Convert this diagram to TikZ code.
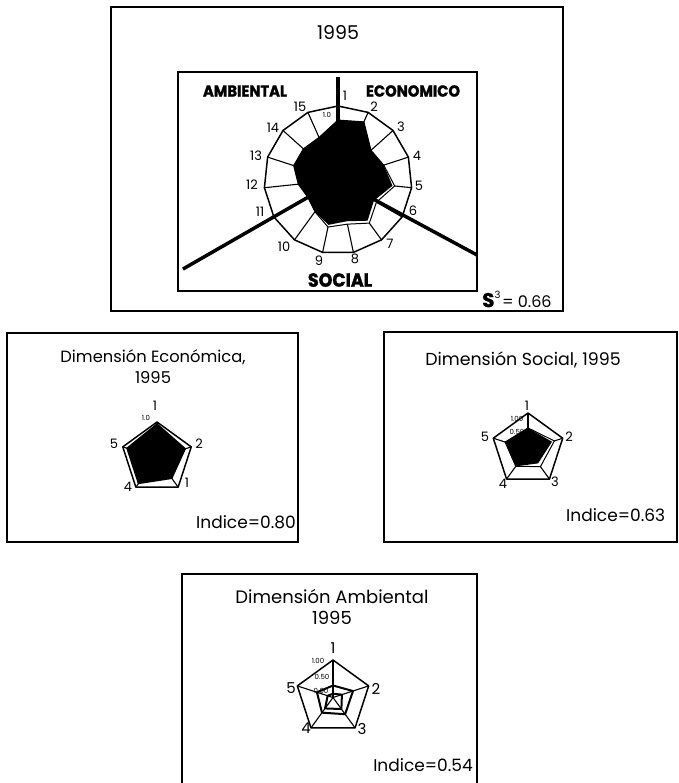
\documentclass[tikz,border=0pt]{standalone}
\usepackage{fontspec}
\setmainfont{Poppins}
\begin{document}
\begin{tikzpicture}[x=1pt,y=-1pt,
  frame/.style={draw=black,line width=1.4pt},
  outerpoly/.style={draw=black,line width=1.5pt,line join=round},
  spoke/.style={draw=black,line width=1.1pt},
  datafill/.style={fill=black},
  dataline/.style={draw=black,line width=1pt,line join=round},
  thickline/.style={draw=black,line width=3.5pt},
  ttl/.style={align=center,inner sep=0pt},
  num/.style={font=\fontsize{13}{14}\selectfont,inner sep=0pt},
  bignum/.style={font=\fontsize{15}{16}\selectfont,inner sep=0pt},
  tiny/.style={font=\fontsize{7}{8}\selectfont,inner sep=0pt},
  heavy/.style={font=\bfseries\addfontfeatures{FakeBold=1.5,FakeStretch=0.92}\fontsize{16}{17}\selectfont,inner sep=0pt},
  idx/.style={font=\fontsize{17}{19}\selectfont,inner sep=0pt}]
\useasboundingbox (0,0) rectangle (678,783);

% ---------- top panel ----------
\draw[frame] (111,7) rectangle (563,311);
\node[ttl,font=\fontsize{19}{21}\selectfont] (t1995) at (338,33) {1995};
\draw[frame] (178,72) rectangle (477,291);
\coordinate (tc) at (338,180);
\begin{scope}[shift={(338pt,-180pt)}]
  \draw[outerpoly] (90:74pt) \foreach \k in {1,...,14} { -- ({90-24*\k}:74pt) } -- cycle;
  \foreach \k in {0,...,14} \draw[spoke] (0,0) -- ({90-24*\k}:74pt);
  \draw[dataline,fill=white] (90:{0.81*74pt})
    \foreach \v [count=\i] in {0.86,0.60,0.65,0.77,0.60,0.72,0.61,0.65,0.53,0.47,0.54,0.63,0.63,0.63}
    { -- ({90-24*\i}:{\v*74pt}) } -- cycle;
  \fill[datafill] (90:{0.81*74pt})
    \foreach \v [count=\i] in {0.86,0.60,0.65,0.74,0.56,0.68,0.57,0.62,0.53,0.47,0.54,0.63,0.63,0.63}
    { -- ({90-24*\i}:{\v*74pt}) } -- cycle;
\end{scope}
\coordinate (tu) at (338,77);
\coordinate (tr) at (477,255);
\coordinate (tl) at (183,269);
\draw[thickline] (tc) -- (tu);
\draw[thickline] (tc) -- (tr);
\draw[thickline] (tc) -- (tl);
\node[heavy] (amb) at (245,91) {AMBIENTAL};
\node[heavy] (eco) at (413,91) {ECONOMICO};
\node[heavy,font=\bfseries\addfontfeatures{FakeBold=1.5,FakeStretch=0.92}\fontsize{19}{20}\selectfont] (soc) at (340,280) {SOCIAL};
\node[tiny] (t10) at (327,115) {1.0};
\node[num] (n1) at (345,96) {1};
\node[num] (n2) at (374,107) {2};
\node[num] (n3) at (401,127) {3};
\node[num] (n4) at (417,156) {4};
\node[num] (n5) at (419,186) {5};
\node[num] (n6) at (413,211) {6};
\node[num] (n7) at (390,244) {7};
\node[num] (n8) at (355,259) {8};
\node[num] (n9) at (319,261) {9};
\node[num] (n10) at (284,247) {10};
\node[num] (n11) at (260,212) {11};
\node[num] (n12) at (252,185) {12};
\node[num] (n13) at (256,156) {13};
\node[num] (n14) at (273,128) {14};
\node[num] (n15) at (300,107) {15};
\node[inner sep=0pt,anchor=west] (s3) at (482,299)
  {{\bfseries\addfontfeatures{FakeBold=1}\fontsize{20}{21}\selectfont S}\raisebox{9pt}{\fontsize{10}{11}\selectfont 3}\,{\fontsize{16}{17}\selectfont = 0.66}};

% ---------- left panel ----------
\draw[frame] (7,333) rectangle (298,542);
\node[ttl,font=\fontsize{16.3}{21}\selectfont] (ecot) at (153,367) {Dimensión Económica,\\1995};
\begin{scope}[shift={(157pt,-458pt)}]
  \draw[outerpoly] (90:36pt) \foreach \k in {1,...,4} { -- ({90-72*\k}:36pt) } -- cycle;
  \foreach \k in {0,...,4} \draw[spoke] (0,0) -- ({90-72*\k}:36pt);
  \fill[datafill] (90:{0.97*36pt})
    \foreach \v [count=\i] in {0.85,0.72,0.9,0.9} { -- ({90-72*\i}:{\v*36pt}) } -- cycle;
\end{scope}
\node[num] (e1) at (155,406) {1};
\node[tiny] (e10) at (146,418) {1.0};
\node[num] (e2) at (199,444) {2};
\node[num] (e3) at (187,483) {1};
\node[num] (e4) at (128,487) {4};
\node[num] (e5) at (114,444) {5};
\node[idx,anchor=west] (ei) at (196,522) {Indice=0.80};

% ---------- right panel ----------
\draw[frame] (384,332) rectangle (677,542);
\node[ttl,font=\fontsize{17.4}{21}\selectfont] (soct) at (523,360) {Dimensión Social, 1995};
\begin{scope}[shift={(528pt,-449.5pt)}]
  \draw[outerpoly] (90:36.5pt) \foreach \k in {1,...,4} { -- ({90-72*\k}:36.5pt) } -- cycle;
  \foreach \k in {0,...,4} \draw[spoke] (0,0) -- ({90-72*\k}:36.5pt);
  \draw[dataline,fill=white] (90:{0.59*36.5pt})
    \foreach \v [count=\i] in {0.76,0.58,0.57,0.66} { -- ({90-72*\i}:{\v*36.5pt}) } -- cycle;
  \fill[datafill] (90:{0.59*36.5pt})
    \foreach \v [count=\i] in {0.69,0.47,0.57,0.66} { -- ({90-72*\i}:{\v*36.5pt}) } -- cycle;
\end{scope}
\node[num] (s1) at (527,406) {1};
\node[tiny] (s100) at (517,419) {1.00};
\node[tiny] (s050) at (517,432) {0.50};
\node[num] (s2) at (569,437) {2};
\node[num] (s3n) at (555,482) {3};
\node[num] (s4) at (503,484) {4};
\node[num] (s5) at (485,437) {5};
\node[idx,anchor=west] (si) at (566,515) {Indice=0.63};

% ---------- bottom panel ----------
\draw[frame] (182,784) -- (182,574) -- (477,574) -- (477,784);
\node[ttl,font=\fontsize{18}{21}\selectfont] (ambt) at (332,607) {Dimensión Ambiental\\1995};
\begin{scope}[shift={(333pt,-697.5pt)}]
  \draw[outerpoly] (90:37.5pt) \foreach \k in {1,...,4} { -- ({90-72*\k}:37.5pt) } -- cycle;
  \foreach \k in {0,...,4} \draw[spoke] (0,0) -- ({90-72*\k}:37.5pt);
  \draw[dataline,line width=2pt] (90:{0.32*37.5pt})
    \foreach \v [count=\i] in {0.56,0.55,0.50,0.45} { -- ({90-72*\i}:{\v*37.5pt}) } -- cycle;
  \draw[dataline,line width=2pt] (90:{0.10*37.5pt})
    \foreach \v [count=\i] in {0.25,0.38,0.36,0.15} { -- ({90-72*\i}:{\v*37.5pt}) } -- cycle;
\end{scope}
\node[bignum] (a1) at (333,648) {1};
\node[tiny] (a100) at (318,661) {1.00};
\node[tiny] (a050) at (322,677) {0.50};
\node[tiny] (a000) at (321,691) {0.00};
\node[bignum] (a2) at (376,689) {2};
\node[bignum] (a3) at (362,729) {3};
\node[bignum] (a4) at (306,728) {4};
\node[bignum] (a5) at (291,688) {5};
\node[idx,anchor=east] (ai) at (473,765) {Indice=0.54};
\end{tikzpicture}
\end{document}
